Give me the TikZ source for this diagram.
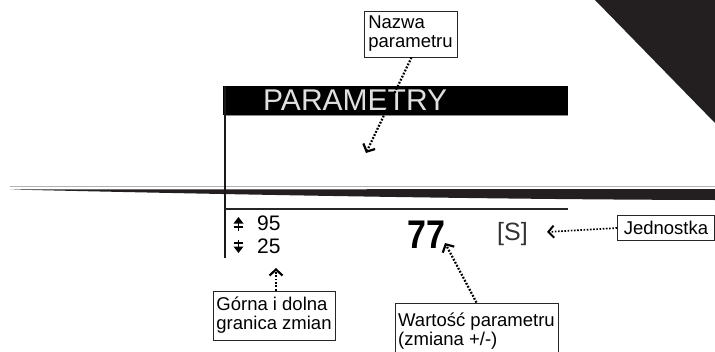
\documentclass[tikz,border=0pt]{standalone}
\usepackage{graphicx}
\usepackage{fontspec}
\setmainfont{Liberation Sans}
\usetikzlibrary{arrows.meta}
\definecolor{inkdark}{RGB}{35,31,32}

\begin{document}
\begin{tikzpicture}[x=1pt,y=-1pt,
  callout/.style={draw=black!85, line width=0.8pt, inner sep=0pt, align=left,
    font=\fontsize{18.5}{19}\selectfont},
  pointer/.style={line width=2.2pt, dash pattern=on 1.8pt off 1.6pt,
    -{Straight Barb[length=6pt,width=13pt,line width=2.2pt]}},
  thinpointer/.style={line width=1.7pt, dash pattern=on 1.6pt off 1.6pt,
    -{Straight Barb[length=5.5pt,width=12pt,line width=2pt]}},
  lcd/.style={inner sep=0pt, anchor=base west}
]
\useasboundingbox (0,0) rectangle (715,351);

% dark corner wedge
\fill[inkdark] (595,0) -- (715,0) -- (715,123) -- cycle;

% horizon lines crossing the display
\draw[black!30, line width=1pt] (10,186) -- (715,186);
\fill[inkdark] (10,189.5) -- (715,189) -- (715,200)
  .. controls (500,199.5) and (250,195) .. (10,189.5) -- cycle;

% display frame
\fill[black] (223,86) rectangle (568,115);
\draw[black!45, line width=1pt] (225,115.5) -- (568,115.5);
\draw[black!90, line width=2pt] (225,86) -- (225,258);
\draw[black!85, line width=2pt] (225,209) -- (568,209);

% display contents
\node[lcd, text=black!12, font=\fontsize{30}{30}\selectfont] (title) at (263,110) {PARAMETRY};

% limit markers
\fill (238.5,217) -- (243.5,223.5) -- (233.5,223.5) -- cycle;
\draw[line width=1.6pt] (238.5,223) -- (238.5,230.5);
\draw[line width=1.6pt] (234,227) -- (243,227);
\fill (238.5,253) -- (243.5,246.5) -- (233.5,246.5) -- cycle;
\draw[line width=1.6pt] (238.5,247) -- (238.5,239.5);
\draw[line width=1.6pt] (234,243) -- (243,243);

\node[lcd, font=\fontsize{21}{21}\selectfont] (upper) at (257,230) {95};
\node[lcd, font=\fontsize{21}{21}\selectfont] (lower) at (257,253) {25};
\node[lcd, font=\bfseries\fontsize{40}{40}\selectfont] (value) at (407,248) {\scalebox{0.85}[1]{77}};
\node[lcd, text=black!80, font=\fontsize{25}{25}\selectfont] (unit) at (497,240) {[S]};

% callouts
\node[callout, minimum width=93pt, minimum height=46pt]
  (name) at (410.5,34) {Nazwa\\parametru};
\node[callout, minimum width=122pt, minimum height=49pt]
  (limits) at (274,315.5) {Górna i dolna\\granica zmian};
\node[callout, minimum width=163pt, minimum height=56pt]
  (val) at (476.5,331) {Wartość parametru\\(zmiana +/-)};
\node[callout, minimum width=97pt, minimum height=25pt]
  (unitbox) at (666,228) {Jednostka};

% pointer ends
\coordinate (nameTip) at (366,153);
\coordinate (limitsTip) at (276,268);
\coordinate (valTip) at (445,243);
\coordinate (unitTip) at (547,232);

\draw[pointer] ([xshift=1pt]name.south) -- (nameTip);
\draw[pointer] ([xshift=2pt]limits.north) -- (limitsTip);
\draw[pointer] (val.north) -- (valTip);
\draw[thinpointer] (unitbox.west) -- (unitTip);
\end{tikzpicture}
\end{document}
